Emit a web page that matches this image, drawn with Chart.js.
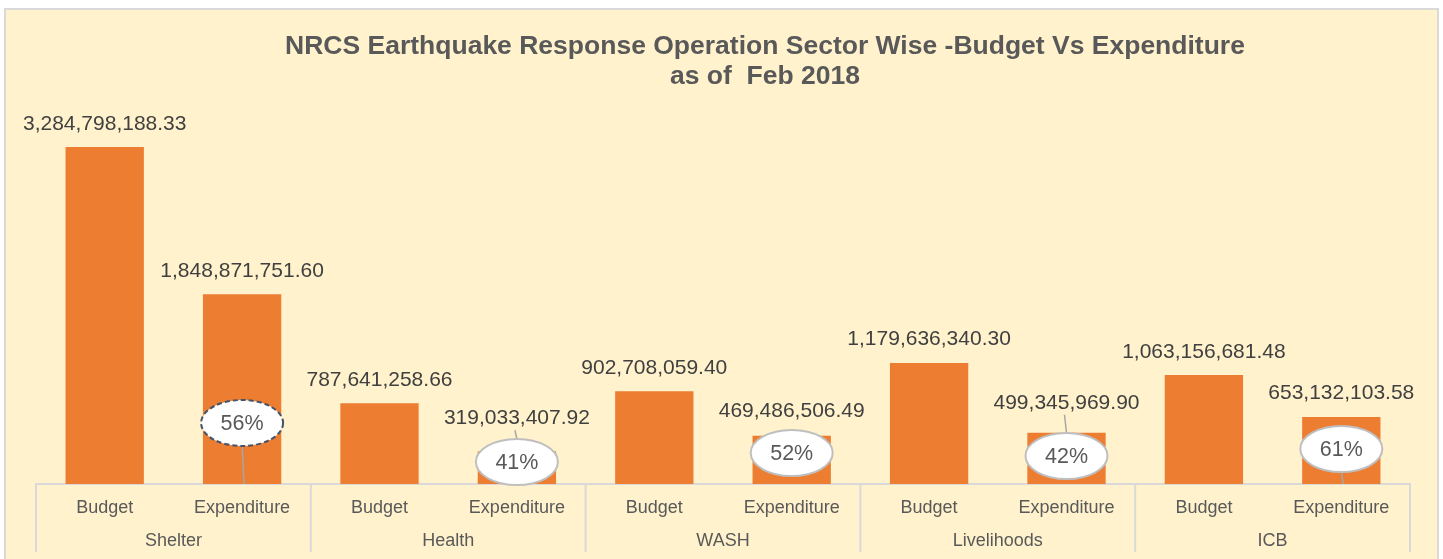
<!DOCTYPE html>
<html>
<head>
<meta charset="utf-8">
<script src="https://cdn.jsdelivr.net/npm/chart.js@4.4.0/dist/chart.umd.min.js"></script>
<style>
  html, body { margin: 0; padding: 0; background: #ffffff; }
  #wrap { position: relative; width: 1443px; height: 559px; }
</style>
</head>
<body>
<div id="wrap"><canvas id="myChart" width="1443" height="559"></canvas></div>
<script>
const sectors = ["Shelter", "Health", "WASH", "Livelihoods", "ICB"];
const kinds = ["Budget", "Expenditure"];
const budget = [3284798188.33, 787641258.66, 902708059.40, 1179636340.30, 1063156681.48];
const expenditure = [1848871751.60, 319033407.92, 469486506.49, 499345969.90, 653132103.58];
const titleLines = ["NRCS Earthquake Response Operation Sector Wise -Budget Vs Expenditure", "as of  Feb 2018"];

// flatten to one bar per sub category
const labels = [];
const values = [];
sectors.forEach((s, i) => {
  labels.push(kinds[0], kinds[1]);
  values.push(budget[i], expenditure[i]);
});
const percents = expenditure.map((e, i) => Math.round((e / budget[i]) * 100) + "%");

// how far above each bar its value label sits
const labelGap = [23, 23, 23, 33, 23, 25, 24, 30, 23, 24];
// callout placement: ellipse centre above baseline, leader direction
const callouts = [
  { dy: 61, leader: "down", dashed: true },
  { dy: 22, leader: "up", dashed: false },
  { dy: 31, leader: "none", dashed: false },
  { dy: 28, leader: "up", dashed: false },
  { dy: 35, leader: "down", dashed: false },
];

const textColor = "#595959";
const lineColor = "#d9d9d9";
const fontFamily = "Arial, 'Liberation Sans', sans-serif";

const fmt = (v) =>
  v.toLocaleString("en-US", { minimumFractionDigits: 2, maximumFractionDigits: 2 });

const frame = {
  id: "frame",
  beforeDraw(chart) {
    const c = chart.ctx;
    c.save();
    c.fillStyle = "#fff2cc";
    c.fillRect(5, 9, 1433, 560);
    c.strokeStyle = lineColor;
    c.lineWidth = 2;
    c.strokeRect(5, 9, 1433, 560);
    // title, centred on the excel chart object rather than the plot
    c.fillStyle = textColor;
    c.font = "bold 26.5px " + fontFamily;
    c.textAlign = "center";
    c.textBaseline = "middle";
    c.fillText(titleLines[0], 765, 47);
    c.fillText(titleLines[1], 765, 77);
    c.restore();
  },
  afterDatasetsDraw(chart) {
    const c = chart.ctx;
    const x = chart.scales.x;
    const area = chart.chartArea;
    const meta = chart.getDatasetMeta(0);
    c.save();
    // group dividers under the axis
    c.strokeStyle = lineColor;
    c.lineWidth = 2;
    const bounds = [x.left];
    for (let i = 2; i < labels.length; i += 2) {
      bounds.push((x.getPixelForValue(i - 1) + x.getPixelForValue(i)) / 2);
    }
    bounds.push(x.right);
    bounds.forEach((bx) => {
      c.beginPath();
      c.moveTo(bx, area.bottom);
      c.lineTo(bx, area.bottom + 68);
      c.stroke();
    });
    // value labels
    c.fillStyle = "#404040";
    c.font = "21px " + fontFamily;
    c.textAlign = "center";
    c.textBaseline = "middle";
    meta.data.forEach((bar, i) => {
      c.fillText(fmt(values[i]), bar.x, bar.y - labelGap[i]);
    });
    // percentage callouts on expenditure bars
    c.font = "21.5px " + fontFamily;
    percents.forEach((p, i) => {
      const k = i * 2 + 1;
      const bar = meta.data[k];
      const cx = bar.x;
      const cy = area.bottom - callouts[i].dy;
      const rx = 41, ry = 23;
      c.setLineDash([]);
      c.strokeStyle = "#a6a6a6";
      c.lineWidth = 1.5;
      if (callouts[i].leader === "up") {
        c.beginPath();
        c.moveTo(cx, cy - ry);
        c.lineTo(cx - 2, bar.y - labelGap[k] + 12);
        c.stroke();
      } else if (callouts[i].leader === "down") {
        c.beginPath();
        c.moveTo(cx, cy + ry);
        c.lineTo(cx + 2, area.bottom);
        c.stroke();
      }
      c.beginPath();
      c.ellipse(cx, cy, rx, ry, 0, 0, Math.PI * 2);
      c.fillStyle = "#ffffff";
      c.fill();
      if (callouts[i].dashed) {
        c.setLineDash([5, 3]);
        c.strokeStyle = "#44546a";
      } else {
        c.setLineDash([]);
        c.strokeStyle = "#bfbfbf";
      }
      c.lineWidth = 2;
      c.stroke();
      c.setLineDash([]);
      c.fillStyle = textColor;
      c.fillText(p, cx, cy + 1);
    });
    c.restore();
  },
};

new Chart(document.getElementById("myChart"), {
  type: "bar",
  data: {
    labels: labels,
    datasets: [
      {
        data: values,
        backgroundColor: "#ed7d31",
        borderWidth: 0,
        barPercentage: 0.57,
        categoryPercentage: 1,
      },
    ],
  },
  options: {
    responsive: false,
    animation: false,
    events: [],
    layout: { padding: { left: 36, right: 33, top: 130, bottom: 7 } },
    plugins: {
      legend: { display: false },
      tooltip: { enabled: false },
      title: { display: false },
    },
    scales: {
      y: {
        display: false,
        min: 0,
        max: 3450000000,
      },
      x: {
        grid: { display: false },
        border: { display: true, color: lineColor, width: 2 },
        ticks: {
          color: textColor,
          font: { family: fontFamily, size: 18 },
          padding: 5,
          maxRotation: 0,
          autoSkip: false,
        },
        afterFit(scale) { scale.height = 34; },
      },
      x2: {
        type: "category",
        position: "bottom",
        labels: sectors,
        offset: true,
        grid: { display: false },
        border: { display: false },
        ticks: {
          color: textColor,
          font: { family: fontFamily, size: 18 },
          padding: 4,
          maxRotation: 0,
          autoSkip: false,
        },
        afterFit(scale) { scale.height = 34; },
      },
    },
  },
  plugins: [frame],
});
</script>
</body>
</html>
